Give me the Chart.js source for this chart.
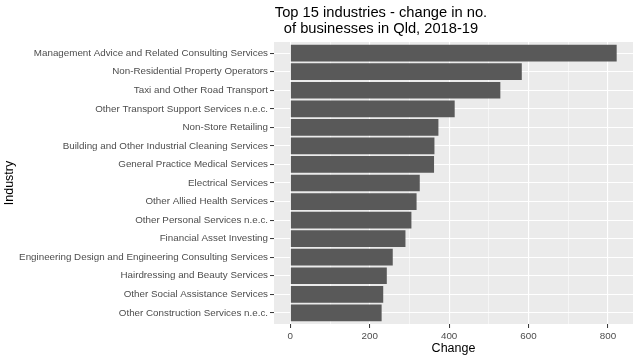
<!DOCTYPE html>
<html><head><meta charset="utf-8">
<script src="https://cdn.jsdelivr.net/npm/chart.js@4/dist/chart.umd.min.js"></script>
<style>html,body{margin:0;padding:0;background:#fff;}canvas{display:block;}</style>
</head><body>
<canvas id="c" width="640" height="360"></canvas>
<script>
const titleLines = ["Top 15 industries - change in no.", "of businesses in Qld, 2018-19"];
const xAxisTitle = "Change";
const yAxisTitle = "Industry";
const categories = [
  "Management Advice and Related Consulting Services",
  "Non-Residential Property Operators",
  "Taxi and Other Road Transport",
  "Other Transport Support Services n.e.c.",
  "Non-Store Retailing",
  "Building and Other Industrial Cleaning Services",
  "General Practice Medical Services",
  "Electrical Services",
  "Other Allied Health Services",
  "Other Personal Services n.e.c.",
  "Financial Asset Investing",
  "Engineering Design and Engineering Consulting Services",
  "Hairdressing and Beauty Services",
  "Other Social Assistance Services",
  "Other Construction Services n.e.c."
];
const changeValues = [822, 583, 529, 414, 373, 363, 362, 326, 318, 305, 290, 258, 243, 234, 230];
const xTickValues = [0, 200, 400, 600, 800];
const xMinorTickValues = [100, 300, 500, 700];

const FONT = "'Liberation Sans', Arial, Helvetica, sans-serif";
const maxVal = Math.max(...changeValues);
const xMin = -0.05 * maxVal, xMax = 1.05 * maxVal;
const isMajorX = (c) => c.tick && xTickValues.includes(c.tick.value);

const panelBg = {
  id: 'panelBg',
  beforeDraw(chart) {
    const {ctx, chartArea: a} = chart;
    ctx.save();
    ctx.fillStyle = '#EBEBEB';
    ctx.fillRect(a.left, a.top, a.right - a.left, a.bottom - a.top);
    ctx.restore();
  }
};
const ggTitle = {
  id: 'ggTitle',
  afterDraw(chart) {
    const ctx = chart.ctx;
    ctx.save();
    ctx.font = "14.7px " + FONT;
    ctx.fillStyle = '#000000';
    ctx.textAlign = 'center';
    ctx.textBaseline = 'alphabetic';
    ctx.fillText(titleLines[0], 381, 17);
    ctx.fillText(titleLines[1], 381, 32.5);
    ctx.restore();
  }
};

new Chart(document.getElementById('c'), {
  type: 'bar',
  data: {
    datasets: [{
      data: categories.map((c, i) => ({x: changeValues[i], y: i + 1})),
      backgroundColor: '#595959',
      borderWidth: 0,
      barPercentage: 0.9,
      categoryPercentage: 1
    }]
  },
  options: {
    indexAxis: 'y',
    responsive: false,
    animation: false,
    devicePixelRatio: 1,
    layout: {padding: {top: 42, right: 7, left: 0, bottom: 0}},
    plugins: {legend: {display: false}, tooltip: {enabled: false}, title: {display: false}},
    scales: {
      x: {
        type: 'linear', position: 'bottom', min: xMin, max: xMax, offset: false,
        afterFit(s) { s.height = 36; },
        afterBuildTicks(s) {
          s.ticks = xTickValues.concat(xMinorTickValues).sort((a, b) => a - b).map(v => ({value: v}));
        },
        ticks: {
          autoSkip: false, maxRotation: 0,
          color: '#4D4D4D', font: {family: FONT, size: 9.8}, padding: 2,
          callback: (v) => xTickValues.includes(v) ? String(v) : ''
        },
        grid: {
          offset: false,
          color: '#FFFFFF',
          lineWidth: (c) => isMajorX(c) ? 1.1 : 0.55,
          drawTicks: true, tickLength: 4,
          tickColor: (c) => isMajorX(c) ? '#333333' : 'rgba(0,0,0,0)',
          tickWidth: 1
        },
        border: {display: false},
        title: {display: true, text: xAxisTitle, color: '#000000', font: {family: FONT, size: 12.5}, padding: {top: 0, bottom: 4}}
      },
      y: {
        type: 'linear', reverse: true, min: 0.4, max: categories.length + 0.6, offset: false,
        afterFit(s) { s.width = 274; },
        afterBuildTicks(s) {
          s.ticks = categories.map((c, i) => ({value: i + 1}));
        },
        ticks: {
          autoSkip: false,
          color: '#4D4D4D', font: {family: FONT, size: 9.8}, padding: 2,
          callback: (v) => categories[Math.round(v) - 1] ?? ''
        },
        grid: {offset: false, color: '#FFFFFF', lineWidth: 1.1, drawTicks: true, tickLength: 4, tickColor: '#333333', tickWidth: 1},
        border: {display: false},
        title: {display: true, text: yAxisTitle, color: '#000000', font: {family: FONT, size: 12.5}, padding: {top: 2, bottom: 0}}
      }
    }
  },
  plugins: [panelBg, ggTitle]
});
</script>
</body></html>
